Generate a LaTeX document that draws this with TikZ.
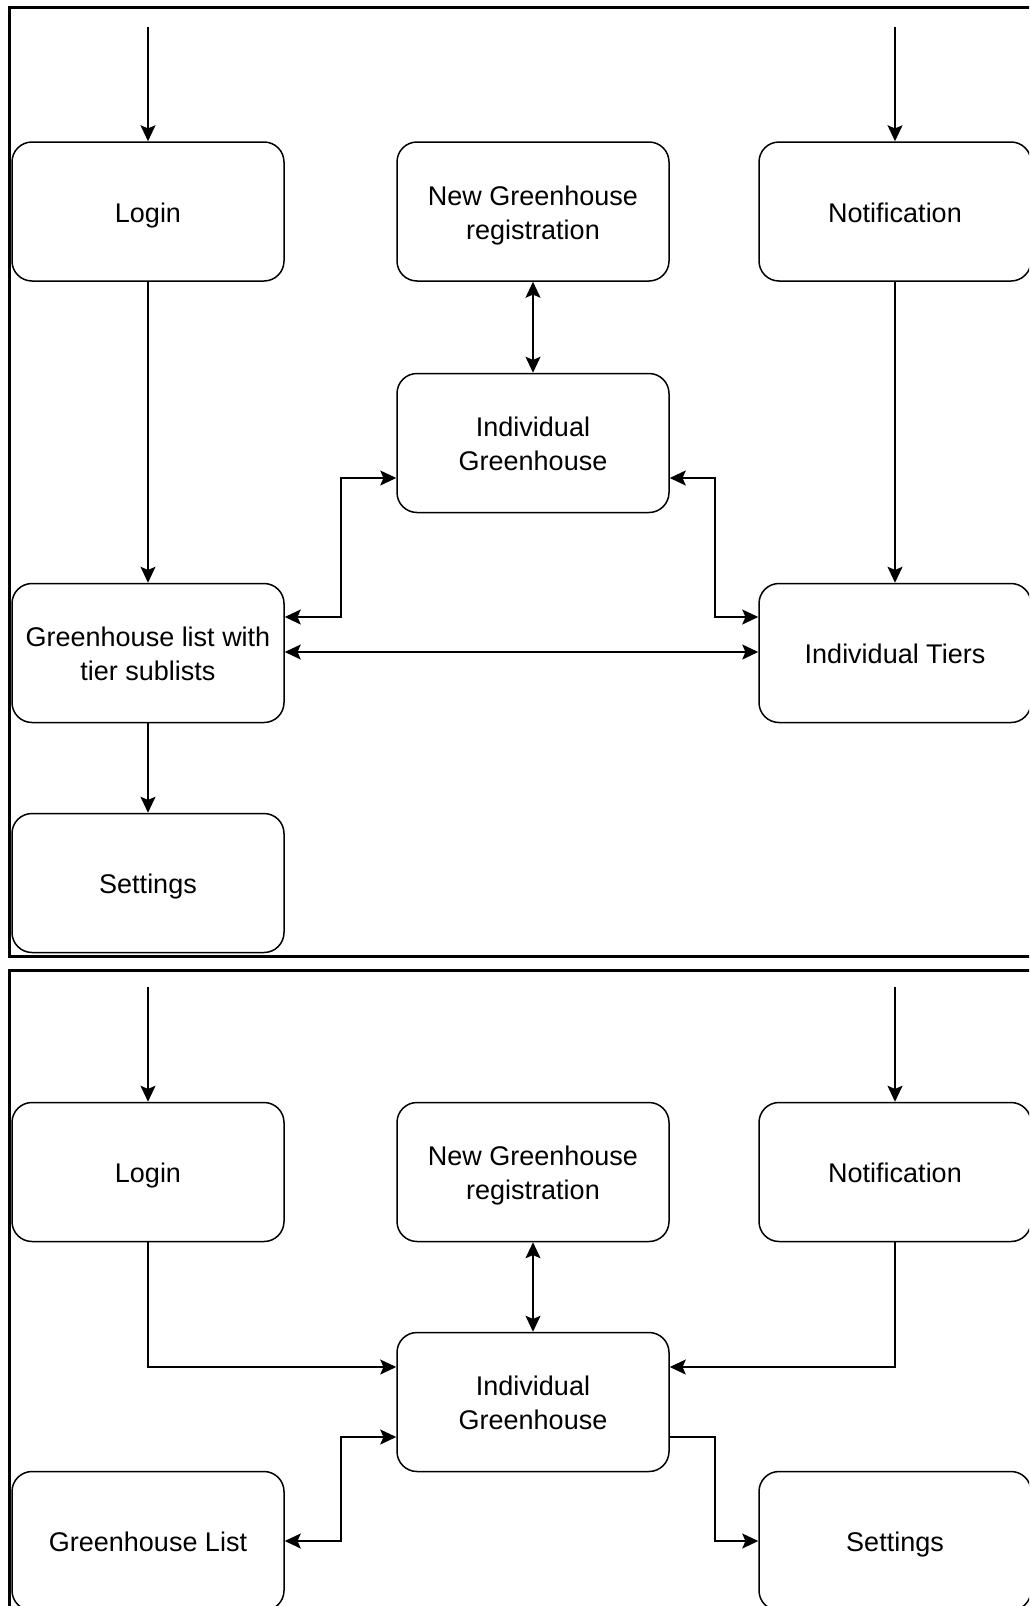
\documentclass[tikz,border=0pt]{standalone}
\usepackage{fontspec}
\setmainfont{Liberation Sans}
\usetikzlibrary{arrows.meta,calc}

% invisible strut giving every text line the same height and depth
\newcommand\linestrut{\rule[-3pt]{0pt}{16.9pt}}

\begin{document}
\begin{tikzpicture}[
  x=0.5pt, y=-0.5pt,
  screen/.style={draw, line width=0.75pt, rounded corners=10pt,
    minimum width=136pt, minimum height=69.5pt, inner sep=0pt,
    align=center, font=\fontsize{13.5pt}{17pt}\selectfont},
  tip/.tip={Stealth[length=8pt,width=7.5pt,inset=1.6pt]},
  flow/.style={line width=0.8pt, -tip},
  both/.style={line width=0.8pt, tip-tip},
  frame/.style={line width=1.5pt}
]
\useasboundingbox (0,0) rectangle (1029,1606);
\clip (0,0) rectangle (1029,1606);
\fill[white] (0,0) rectangle (1029,1606);

% ---------- first navigation map ----------
\draw[frame] (1040,7) -- (9,7) -- (9,956) -- (1040,956);

\node[screen] (login1) at (148,211.5) {\linestrut Login};
\node[screen] (newgh1) at (533,211.5) {\linestrut New Greenhouse\\\linestrut registration};
\node[screen] (notif1) at (895,211.5) {\linestrut Notification};
\node[screen] (indgh1) at (533,443) {\linestrut Individual\\\linestrut Greenhouse};
\node[screen] (ghlist1) at (148,653) {\linestrut Greenhouse list with\\\linestrut tier sublists};
\node[screen] (tiers1) at (895,653) {\linestrut Individual Tiers};
\node[screen] (set1) at (148,883) {\linestrut Settings};

\coordinate (entryL1) at (148,27);
\coordinate (entryN1) at (895,27);

\draw[flow] (entryL1) -- (login1.north);
\draw[flow] (entryN1) -- (notif1.north);
\draw[flow] (login1.south) -- (ghlist1.north);
\draw[flow] (notif1.south) -- (tiers1.north);
\draw[both] (newgh1.south) -- (indgh1.north);
\draw[both] ($(ghlist1.east)+(0,-36)$) -- ++(56,0) |- ($(indgh1.west)+(0,35)$);
\draw[both] ($(indgh1.east)+(0,35)$) -- ++(45,0) |- ($(tiers1.west)+(0,-36)$);
\draw[both] ($(ghlist1.east)+(0,-1)$) -- ($(tiers1.west)+(0,-1)$);
\draw[flow] (ghlist1.south) -- (set1.north);

% ---------- second navigation map ----------
\draw[frame] (1040,970) -- (9,970) -- (9,1620);

\node[screen] (login2) at (148,1172) {\linestrut Login};
\node[screen] (newgh2) at (533,1172) {\linestrut New Greenhouse\\\linestrut registration};
\node[screen] (notif2) at (895,1172) {\linestrut Notification};
\node[screen] (indgh2) at (533,1402) {\linestrut Individual\\\linestrut Greenhouse};
\node[screen] (ghlist2) at (148,1541) {\linestrut Greenhouse List};
\node[screen] (set2) at (895,1541) {\linestrut Settings};

\coordinate (entryL2) at (148,987);
\coordinate (entryN2) at (895,987);

\draw[flow] (entryL2) -- (login2.north);
\draw[flow] (entryN2) -- (notif2.north);
\draw[flow] (login2.south) |- ($(indgh2.west)+(0,-35)$);
\draw[flow] (notif2.south) |- ($(indgh2.east)+(0,-35)$);
\draw[both] (newgh2.south) -- (indgh2.north);
\draw[both] (ghlist2.east) -- ++(56,0) |- ($(indgh2.west)+(0,35)$);
\draw[flow] ($(indgh2.east)+(0,35)$) -- ++(45,0) |- (set2.west);
\end{tikzpicture}
\end{document}
